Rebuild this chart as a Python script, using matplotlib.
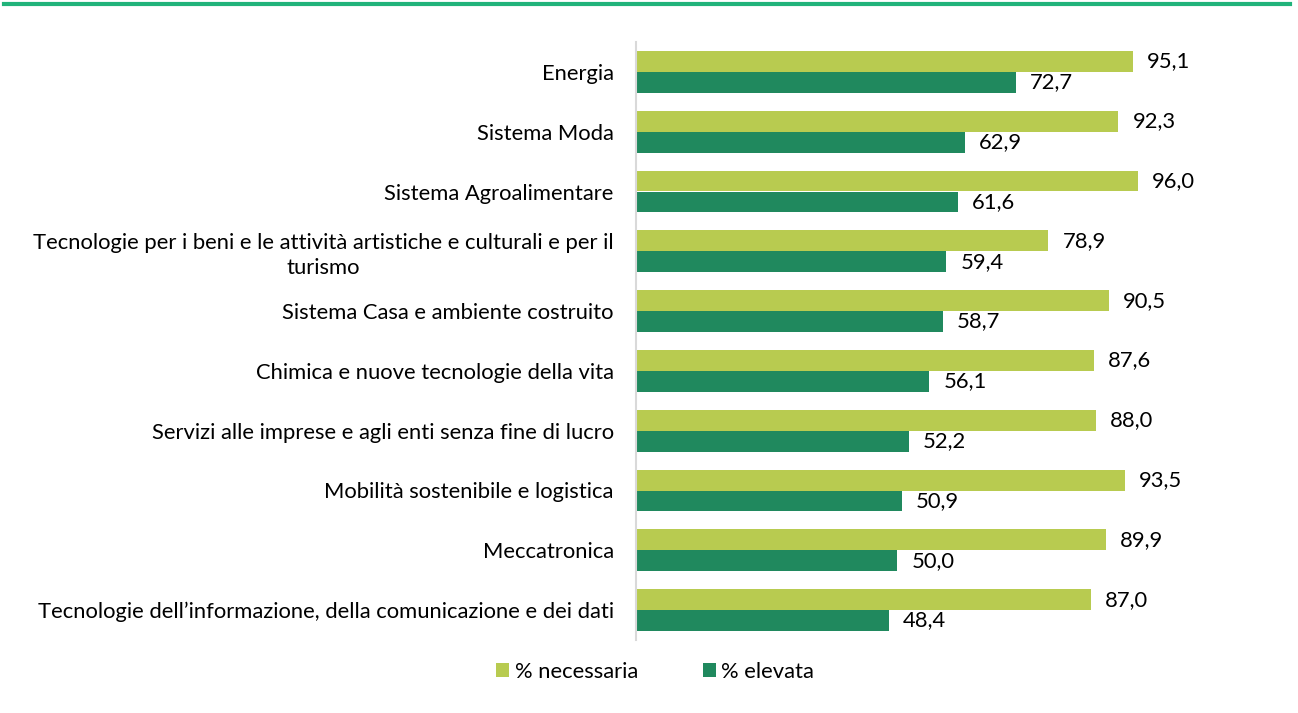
import matplotlib
matplotlib.use("Agg")
import matplotlib.pyplot as plt
import numpy as np
from matplotlib.lines import Line2D

categories = [
    "Energia",
    "Sistema Moda",
    "Sistema Agroalimentare",
    "Tecnologie per i beni e le attività artistiche e culturali e per il\nturismo",
    "Sistema Casa e ambiente costruito",
    "Chimica e nuove tecnologie della vita",
    "Servizi alle imprese e agli enti senza fine di lucro",
    "Mobilità sostenibile e logistica",
    "Meccatronica",
    "Tecnologie dell\u2019informazione, della comunicazione e dei dati",
]
necessaria = [95.1, 92.3, 96.0, 78.9, 90.5, 87.6, 88.0, 93.5, 89.9, 87.0]
elevata = [72.7, 62.9, 61.6, 59.4, 58.7, 56.1, 52.2, 50.9, 50.0, 48.4]
series_names = ["% necessaria", "% elevata"]

c_light = "#B8CB50"
c_dark = "#20895E"

plt.rcParams['font.family'] = ['Lato', 'DejaVu Sans']
fs = 15.8

fig = plt.figure(figsize=(12.98, 7.13), dpi=100)
ax = fig.add_axes([636/1298, 1-640/713, 624/1298, 598/713])

n = len(categories)
y = np.arange(n)
h = 0.35
ax.barh(y - h/2, necessaria, height=h, color=c_light, label=series_names[0])
ax.barh(y + h/2, elevata, height=h, color=c_dark, label=series_names[1])

for yi, v in zip(y, necessaria):
    ax.text(v + 2.7, yi - h/2, f"{v:.1f}".replace(".", ","), va="center", ha="left", fontsize=fs, color="#000000")
for yi, v in zip(y, elevata):
    ax.text(v + 2.7, yi + h/2, f"{v:.1f}".replace(".", ","), va="center", ha="left", fontsize=fs, color="#000000")

ax.set_xlim(0, 624/5.226)
ax.set_ylim(n - 0.5, -0.5)
ax.set_yticks(y)
ax.set_yticklabels(categories, fontsize=fs, multialignment="center", linespacing=1.3)
ax.tick_params(axis="y", length=0, pad=16)
ax.set_xticks([])
for s in ["top", "right", "bottom"]:
    ax.spines[s].set_visible(False)
ax.spines["left"].set_color("#D9D9D9")
ax.spines["left"].set_linewidth(1.5)

# top rule
fig.add_artist(Line2D([0.003, 0.994], [1-4/713, 1-4/713], color="#21B37A", lw=3, transform=fig.transFigure))

leg = fig.legend(loc="center", bbox_to_anchor=(655/1298, 1-672/713), ncol=2, frameon=False,
                 fontsize=fs, handlelength=0.6, handleheight=0.6, handletextpad=0.25, columnspacing=2.95)

fig.savefig("out.png", dpi=100)
